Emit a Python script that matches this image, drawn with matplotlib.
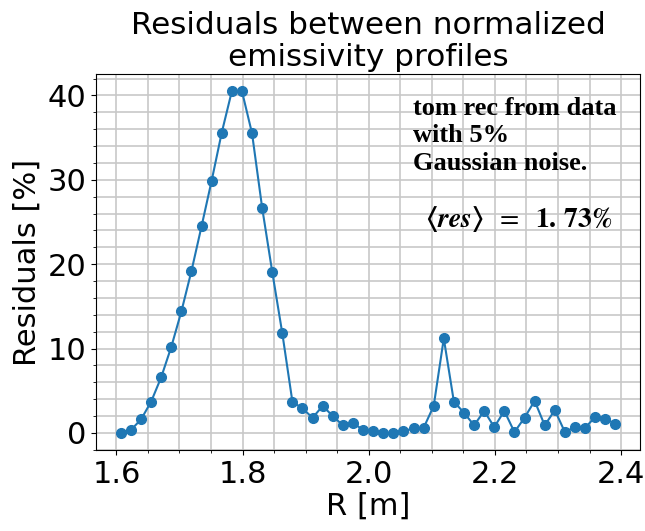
import matplotlib
matplotlib.use('Agg')
import matplotlib.pyplot as plt
from matplotlib.ticker import MultipleLocator

# ── data ──
R = [1.607, 1.623, 1.639, 1.655, 1.671, 1.687, 1.703, 1.719, 1.735, 1.751,
     1.767, 1.783, 1.799, 1.815, 1.831, 1.847, 1.863, 1.879, 1.895, 1.911,
     1.927, 1.943, 1.959, 1.975, 1.991, 2.007, 2.023, 2.039, 2.055, 2.071,
     2.087, 2.103, 2.119, 2.135, 2.151, 2.167, 2.183, 2.199, 2.215, 2.231,
     2.247, 2.263, 2.279, 2.295, 2.311, 2.327, 2.343, 2.359, 2.375, 2.391]
residuals = [0.0, 0.35, 1.6, 3.7, 6.6, 10.2, 14.4, 19.2, 24.5, 29.9,
             35.6, 40.5, 40.5, 35.5, 26.7, 19.1, 11.8, 3.7, 2.9, 1.8,
             3.2, 2.0, 0.9, 1.2, 0.35, 0.2, 0.0, 0.0, 0.2, 0.55,
             0.6, 3.2, 11.2, 3.7, 2.4, 0.9, 2.6, 0.7, 2.6, 0.1,
             1.8, 3.8, 0.9, 2.7, 0.1, 0.7, 0.6, 1.9, 1.65, 1.1]

TITLE = 'Residuals between normalized\nemissivity profiles'
NOTE = 'tom rec from data\nwith 5%\nGaussian noise.'
MEAN_RES = (r'$\mathbf{\langle}\mathbfit{res}\mathbf{\rangle}\ \;=\;\ '
            r'\mathbf{1.\,73\%}$')

plt.rcParams['mathtext.fontset'] = 'stix'

fig = plt.figure(figsize=(6.45, 5.31), dpi=100)
ax = fig.add_axes([0.149, 0.1525, 0.8434, 0.708])

ax.plot(R, residuals, '-o', color='#1f77b4', markersize=7, linewidth=1.5)

ax.xaxis.set_major_locator(MultipleLocator(0.2))
ax.xaxis.set_minor_locator(MultipleLocator(0.05))
ax.yaxis.set_major_locator(MultipleLocator(10))
ax.yaxis.set_minor_locator(MultipleLocator(2))
ax.grid(which='both', color='#c8c8c8', linewidth=1.2)
ax.set_axisbelow(True)

ax.tick_params(labelsize=22)
ax.set_xlabel('R [m]', fontsize=22, labelpad=2)
ax.set_ylabel('Residuals [%]', fontsize=22)
ax.set_title(TITLE, fontsize=22.4, linespacing=1.1)

ax.text(0.583, 0.94, NOTE, transform=ax.transAxes, fontsize=19,
        family='Liberation Serif', fontweight='bold', va='top', linespacing=1.26)
ax.text(0.605, 0.593, MEAN_RES, transform=ax.transAxes, fontsize=20,
        va='baseline')

fig.savefig('out.png', dpi=100)
